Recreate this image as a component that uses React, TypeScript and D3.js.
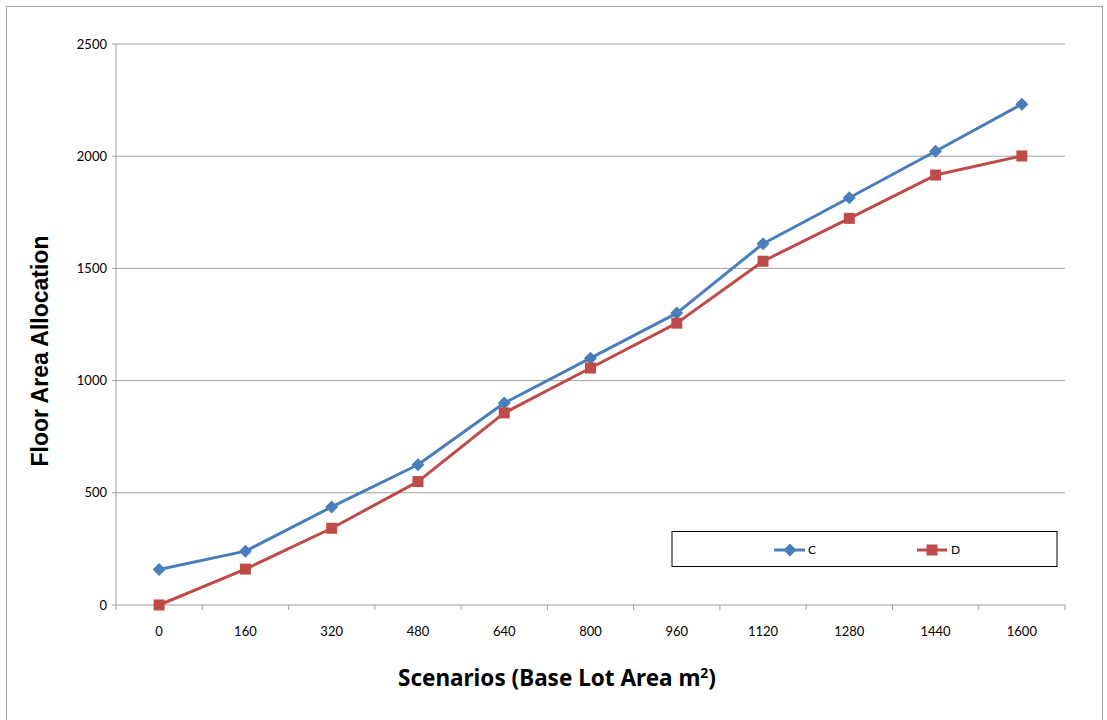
import React from "react";
import * as d3 from "d3";

const categories = ["0", "160", "320", "480", "640", "800", "960", "1120", "1280", "1440", "1600"];
const seriesC = [158, 240, 437, 625, 900, 1100, 1301, 1610, 1815, 2022, 2232];
const seriesD = [0, 160, 342, 550, 856, 1056, 1256, 1532, 1723, 1916, 2001];
const yTicks = [0, 500, 1000, 1500, 2000, 2500];

const W = 1107, H = 720;
const left = 116, right = 1065, top = 44, bottom = 605;
const blue = "#4A7EBB", red = "#BE4B48";
const font = "Lato, 'Open Sans', sans-serif";
const titleFont = "'Noto Sans', 'Open Sans', sans-serif";
const arial = "'Liberation Sans', Arial, sans-serif";

export default function App() {
  const x = d3.scaleBand<string>().domain(categories).range([left, right]);
  const y = d3.scaleLinear().domain([0, 2500]).range([bottom, top]);
  const cx = (c: string) => (x(c) as number) + x.bandwidth() / 2;
  const line = d3.line<number>().x((_, i) => cx(categories[i])).y((v) => y(v));
  const boundaries = categories.map((c) => x(c) as number).concat([right]);
  const dr = 6.5;
  const diamond = `M0,${-dr}L${dr},0L0,${dr}L${-dr},0Z`;
  const sq = 11;

  return (
    <svg width={W} height={H} style={{ position: "absolute", left: 0, top: 0 }}>
      <rect x={0} y={0} width={W} height={H} fill="#fff" />
      <rect x={6.5} y={6.5} width={1096} height={720} fill="none" stroke="#a0a0a0" strokeWidth={1} />
      {yTicks.map((t) => (
        <g key={t}>
          <line x1={left - 4} x2={right} y1={y(t)} y2={y(t)} stroke="#a0a0a0" strokeWidth={1} />
          <text x={left - 9} y={y(t)} dy="0.35em" textAnchor="end" fontFamily={font} fontSize={13} fill="#000">{t}</text>
        </g>
      ))}
      <line x1={left} x2={left} y1={top} y2={bottom} stroke="#a0a0a0" />
      {boundaries.map((b, i) => (
        <line key={i} x1={b} x2={b} y1={bottom} y2={bottom + 5} stroke="#a0a0a0" />
      ))}
      {categories.map((c) => (
        <text key={c} x={cx(c)} y={631} dy="0.35em" textAnchor="middle" fontFamily={font} fontSize={13} fill="#000">{c}</text>
      ))}
      <path d={line(seriesC) as string} fill="none" stroke={blue} strokeWidth={3} strokeLinejoin="round" />
      <path d={line(seriesD) as string} fill="none" stroke={red} strokeWidth={3} strokeLinejoin="round" />
      {seriesC.map((v, i) => (
        <path key={i} d={diamond} transform={`translate(${cx(categories[i])},${y(v)})`} fill={blue} />
      ))}
      {seriesD.map((v, i) => (
        <rect key={i} x={cx(categories[i]) - sq / 2} y={y(v) - sq / 2} width={sq} height={sq} fill={red} />
      ))}
      <text x={557} y={678} dy="0.35em" textAnchor="middle" fontFamily={titleFont} fontWeight="bold" fontSize={22.5} fill="#000">
        Scenarios (Base Lot Area m<tspan fontSize={14} dy={-8}>2</tspan><tspan dy={8}>)</tspan>
      </text>
      <text transform={`translate(40,351) rotate(-90)`} dy="0.35em" textAnchor="middle" fontFamily={arial} fontWeight="bold" fontSize={23} fill="#000">
        Floor Area Allocation
      </text>
      <rect x={672} y={531.5} width={385} height={35} fill="#fff" stroke="#000" strokeWidth={1} />
      <line x1={774} x2={805} y1={550} y2={550} stroke={blue} strokeWidth={3} />
      <path d={diamond} transform="translate(790,550)" fill={blue} />
      <text x={808} y={550} dy="0.35em" fontFamily={font} fontSize={12} fill="#000">C</text>
      <line x1={917} x2={947} y1={550} y2={550} stroke={red} strokeWidth={3} />
      <rect x={932 - sq / 2} y={550 - sq / 2} width={sq} height={sq} fill={red} />
      <text x={951} y={550} dy="0.35em" fontFamily={font} fontSize={12} fill="#000">D</text>
    </svg>
  );
}
